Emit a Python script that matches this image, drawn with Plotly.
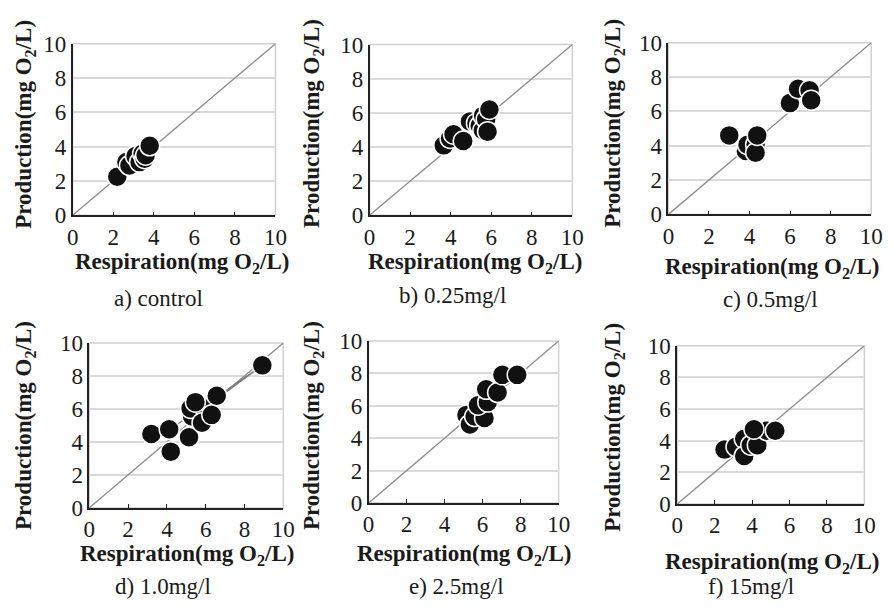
import plotly.graph_objects as go

# ---------------- data ----------------
panel_labels = ["a) control", "b) 0.25mg/l", "c) 0.5mg/l", "d) 1.0mg/l", "e) 2.5mg/l", "f) 15mg/l"]

a_resp = [2.2, 2.65, 2.8, 3.1, 3.3, 3.45, 3.55, 3.6, 3.8]
a_prod = [2.25, 3.1, 2.9, 3.45, 3.1, 3.6, 3.3, 3.5, 4.05]

b_resp = [3.66, 3.97, 4.14, 4.62, 4.95, 5.27, 5.43, 5.59, 5.6, 5.75, 5.82, 5.91]
b_prod = [4.1, 4.5, 4.75, 4.35, 5.5, 5.4, 5.25, 4.98, 5.84, 5.63, 4.9, 6.2]

c_resp = [3.0, 3.82, 3.9, 4.3, 4.3, 4.38, 5.99, 6.39, 6.96, 7.04]
c_prod = [4.6, 3.69, 4.06, 4.06, 3.59, 4.6, 6.48, 7.32, 7.23, 6.65]

d_resp = [3.2, 4.12, 4.2, 5.14, 5.3, 5.22, 5.97, 5.81, 6.31, 5.47, 6.57, 8.92]
d_prod = [4.48, 4.77, 3.41, 4.28, 5.54, 6.03, 6.03, 5.16, 5.64, 6.41, 6.8, 8.64]
# faint connecting lines visible in panel d
d_line1_x = [4.15, 8.92]
d_line1_y = [4.75, 8.64]
d_line2_x = [5.3, 8.92]
d_line2_y = [5.5, 8.64]

e_resp = [5.15, 5.33, 5.58, 6.1, 5.76, 6.27, 6.19, 6.79, 7.04, 7.82]
e_prod = [5.44, 4.85, 5.34, 5.25, 6.04, 6.23, 7.02, 6.82, 7.91, 7.91]

f_resp = [2.53, 3.14, 3.58, 3.58, 3.93, 4.28, 4.8, 5.24, 4.1]
f_prod = [3.44, 3.62, 4.12, 3.04, 3.72, 3.72, 4.63, 4.63, 4.73]

series = [(a_resp, a_prod), (b_resp, b_prod), (c_resp, c_prod),
          (d_resp, d_prod), (e_resp, e_prod), (f_resp, f_prod)]

tick_vals = [0, 2, 4, 6, 8, 10]
tick_text = ["0", "2", "4", "6", "8", "10"]
diag = [0, 10]

# ---------------- layout geometry (pixels) ----------------
W, H = 894, 612
# plot areas: x0, x1, y_top, y_bottom
areas = [(68, 275, 33, 212), (371, 578, 34, 212), (676, 883, 32, 211),
         (85, 283, 345, 517), (370, 564, 343, 512), (685, 876, 348, 513)]
# y-title center (x, y), x-title center (x, y), caption center (x, y)
ytitle_pos = [(20, 117), (314, 116), (621, 116), (20, 431), (314, 431), (621, 433)]
xtitle_pos = [(180, 262), (479, 262), (782, 267), (185, 566), (467, 566), (782, 574)]
caption_pos = [(156, 299), (456, 296), (780, 300), (160, 599), (460, 599), (760, 599)]

FONT = "Liberation Serif, Times New Roman, DejaVu Serif, serif"
TXT = "#1a1a1a"
fig = go.Figure()
layout = dict(width=W, height=H, margin=dict(l=0, r=0, t=0, b=0),
              paper_bgcolor="white", plot_bgcolor="white", showlegend=False,
              font=dict(family=FONT, color=TXT))
annotations = []
shapes = []

for i, ((xs, ys), (x0, x1, yt, yb)) in enumerate(zip(series, areas)):
    n = "" if i == 0 else str(i + 1)
    xa, ya = "x" + n, "y" + n
    layout["xaxis" + n] = dict(domain=[x0 / W, x1 / W], anchor=ya, range=[0, 10],
                               tickvals=tick_vals, ticktext=tick_text,
                               showgrid=False, zeroline=False, showline=True,
                               linecolor="#222", linewidth=1.5, ticks="inside",
                               ticklen=4, tickcolor="#222",
                               tickfont=dict(family=FONT, size=23, color=TXT))
    layout["yaxis" + n] = dict(domain=[1 - yb / H, 1 - yt / H], anchor=xa, range=[0, 10],
                               tickvals=tick_vals, ticktext=tick_text,
                               showgrid=True, gridcolor="#d9d9d9", gridwidth=1.5,
                               zeroline=False, showline=True, linecolor="#222",
                               linewidth=1.5, ticks="",
                               tickfont=dict(family=FONT, size=23, color=TXT))
    # light frame around plot area
    shapes.append(dict(type="rect", xref=xa + " domain", yref=ya + " domain",
                       x0=0, x1=1, y0=0, y1=1, line=dict(color="#d0d0d0", width=1.5),
                       layer="below"))
    # 1:1 line
    fig.add_trace(go.Scatter(x=diag, y=diag, mode="lines", xaxis=xa, yaxis=ya,
                             line=dict(color="#8c8c8c", width=1.3), hoverinfo="skip"))
    if i == 3:
        for lx, ly in ((d_line1_x, d_line1_y), (d_line2_x, d_line2_y)):
            fig.add_trace(go.Scatter(x=lx, y=ly, mode="lines", xaxis=xa, yaxis=ya,
                                     line=dict(color="#777", width=1.2), hoverinfo="skip"))
    fig.add_trace(go.Scatter(x=xs, y=ys, mode="markers", xaxis=xa, yaxis=ya,
                             marker=dict(size=20, color="#111",
                                         line=dict(color="white", width=1.5))))
    tx, ty = ytitle_pos[i]
    annotations.append(dict(text="<b>Production(mg O<sub>2</sub>/L)</b>", textangle=-90,
                            x=tx / W, y=1 - ty / H, xref="paper", yref="paper",
                            showarrow=False, xanchor="center", yanchor="middle",
                            font=dict(family=FONT, size=23, color=TXT)))
    tx, ty = xtitle_pos[i]
    annotations.append(dict(text="<b>Respiration(mg O<sub>2</sub>/L)</b>",
                            x=tx / W, y=1 - ty / H, xref="paper", yref="paper",
                            showarrow=False, xanchor="center", yanchor="middle",
                            font=dict(family=FONT, size=23, color=TXT)))
    tx, ty = caption_pos[i]
    annotations.append(dict(text=panel_labels[i],
                            x=tx / W, y=1 - ty / H, xref="paper", yref="paper",
                            showarrow=False, xanchor="center", yanchor="middle",
                            font=dict(family=FONT, size=23, color=TXT)))

layout["annotations"] = annotations
layout["shapes"] = shapes
fig.update_layout(**layout)
fig.write_html("out.html",
               post_script="document.documentElement.style.margin='0';document.body.style.margin='0';document.body.style.padding='0';document.body.style.overflow='hidden';")
